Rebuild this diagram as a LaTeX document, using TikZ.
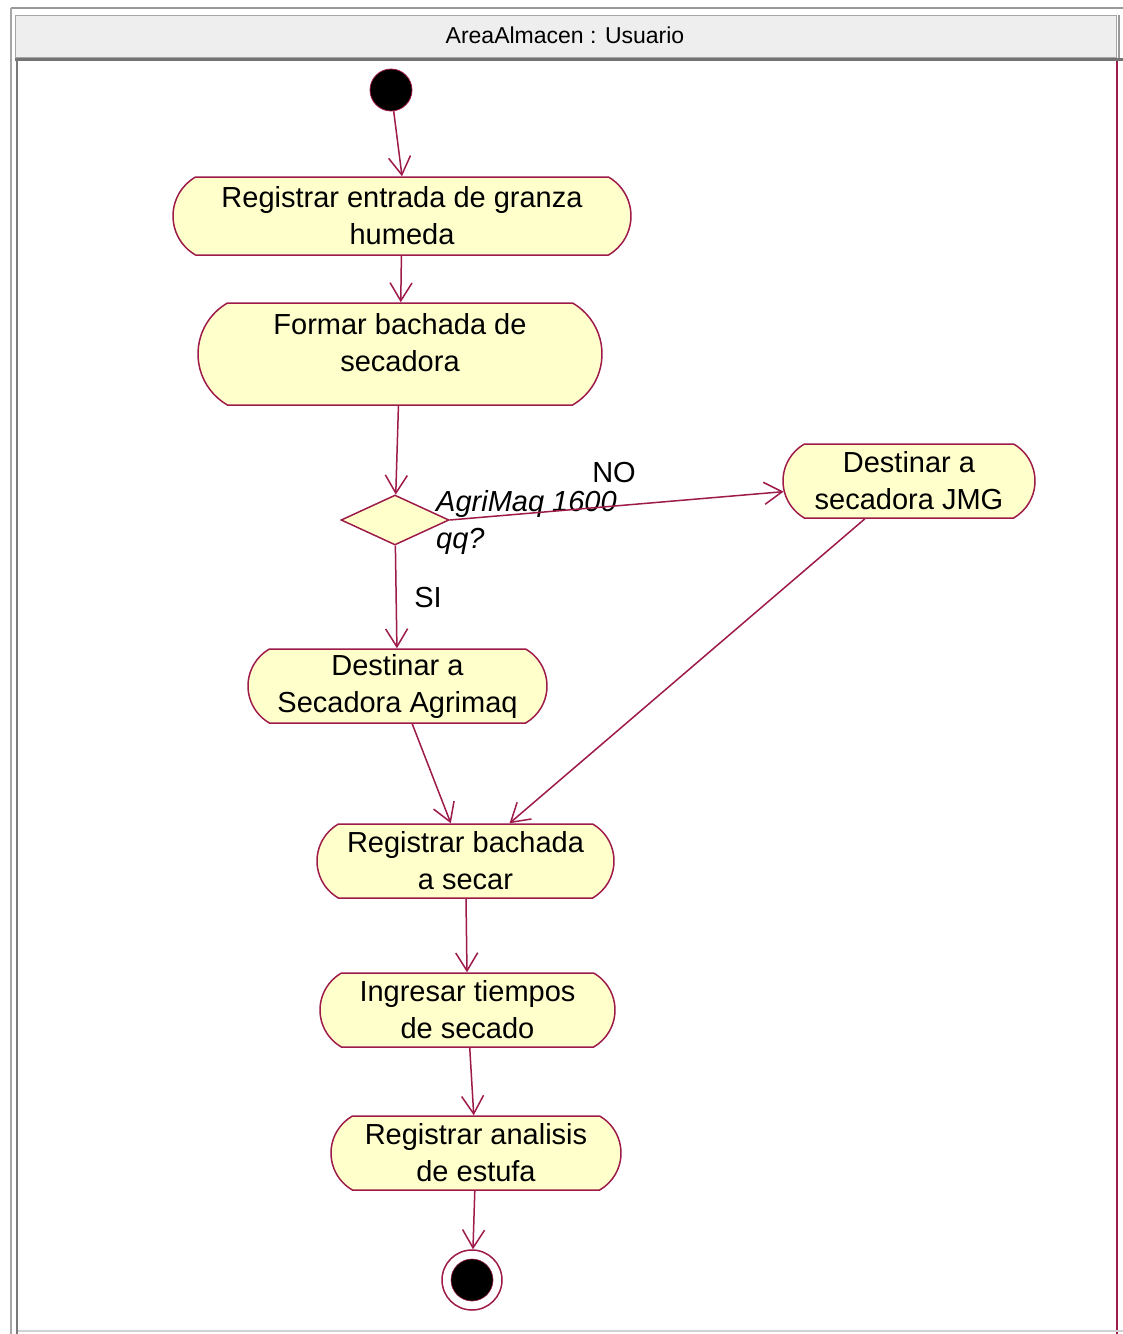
\documentclass[tikz,border=0pt]{standalone}
\usepackage{fontspec}
\setmainfont{Liberation Sans}
\usetikzlibrary{shapes.misc,shapes.geometric,arrows.meta}
\definecolor{umlred}{HTML}{9E1A4A}
\definecolor{umlfill}{HTML}{FFFFCC}
\definecolor{hdrfill}{HTML}{EEEEEE}
\begin{document}
\begin{tikzpicture}[x=1pt,y=-1pt,
  act/.style={rounded rectangle, rounded rectangle arc length=120, draw=umlred, fill=umlfill,
    line width=1.5pt, align=center, font=\fontsize{29}{37}\selectfont, inner sep=2pt},
  flow/.style={draw=umlred, line width=1.5pt, -{Straight Barb[length=18pt,width=22pt]}},
  lbl/.style={font=\fontsize{29}{37}\selectfont, inner sep=0pt},
  frameline/.style={line width=2pt}]
\useasboundingbox (0,0) rectangle (1123,1334);
\fill[white] (0,0) rectangle (1123,1334);
% frame
\draw[frameline, draw=gray!80] (11,8) -- (1123,8);
\draw[fill=hdrfill, draw=gray!70, line width=1pt] (15,15) rectangle (1116,57);
\draw[line width=3pt, draw=gray!90!black] (15,59.5) -- (1123,59.5);
\draw[line width=2pt, draw=gray!80] (1119,15) -- (1119,58);
\draw[frameline, draw=gray!70] (11,8) -- (11,1334);
\draw[frameline, draw=gray!95!black] (17,58) -- (17,1334);
\draw[line width=1.5pt, draw=umlred] (1117,61) -- (1117,1334);
\draw[line width=1.5pt, draw=gray!35] (18,1331) -- (1123,1331);
\node[font=\fontsize{23}{27}\selectfont, inner sep=0pt] (hdr) at (565,35) {AreaAlmacen : Usuario};
% nodes
\node[circle, fill=black, draw=umlred, line width=0.8pt, minimum size=42pt, inner sep=0pt] (start) at (391,90) {};
\node[act, minimum width=462pt, minimum height=78pt] (a1) at (402,216) {Registrar entrada de granza\\humeda};
\node[act, minimum width=408pt, minimum height=102pt] (a2) at (400,354) {};
\node[lbl, align=center] (a2t) at (400,343) {Formar bachada de\\secadora};
\node[diamond, draw=umlred, fill=umlfill, line width=1.5pt, minimum width=108pt, minimum height=50pt, inner sep=0pt] (dec) at (395,520) {};
\node[act, minimum width=256pt, minimum height=74pt] (a3) at (909,481) {Destinar a\\secadora JMG};
\node[act, minimum width=303pt, minimum height=74pt] (a4) at (397.5,686) {Destinar a\\Secadora Agrimaq};
\node[act, minimum width=301pt, minimum height=74pt] (a5) at (465.5,861) {Registrar bachada\\a secar};
\node[act, minimum width=299pt, minimum height=74pt] (a6) at (467.5,1010) {Ingresar tiempos\\de secado};
\node[act, minimum width=294pt, minimum height=74pt] (a7) at (476,1153) {Registrar analisis\\de estufa};
\node[circle, draw=umlred, fill=white, line width=1.5pt, minimum size=60pt, inner sep=0pt] (end) at (472,1280) {};
\node[circle, fill=black, draw=umlred, line width=0.6pt, minimum size=42pt, inner sep=0pt] (endin) at (472,1280) {};
% labels
\node[lbl] (no) at (614,473) {NO};
\node[lbl] (si) at (428,598) {SI};
\node[lbl, anchor=west, align=left, font=\fontsize{29}{37}\selectfont\itshape] (cond) at (436,522) {AgriMaq 1600\\qq?};
% connectors
\draw[flow] (start) -- (a1.north);
\draw[flow] (a1) -- (a2);
\draw[flow] (a2) -- (dec);
\draw[flow] (dec) -- (a4);
\draw[flow] (dec.east) -- (a3);
\draw[flow] (a4) -- (a5);
\draw[flow] (a3) -- (a5);
\draw[flow] (a5) -- (a6);
\draw[flow] (a6) -- (a7);
\draw[flow] (a7) -- (end);
\end{tikzpicture}
\end{document}
